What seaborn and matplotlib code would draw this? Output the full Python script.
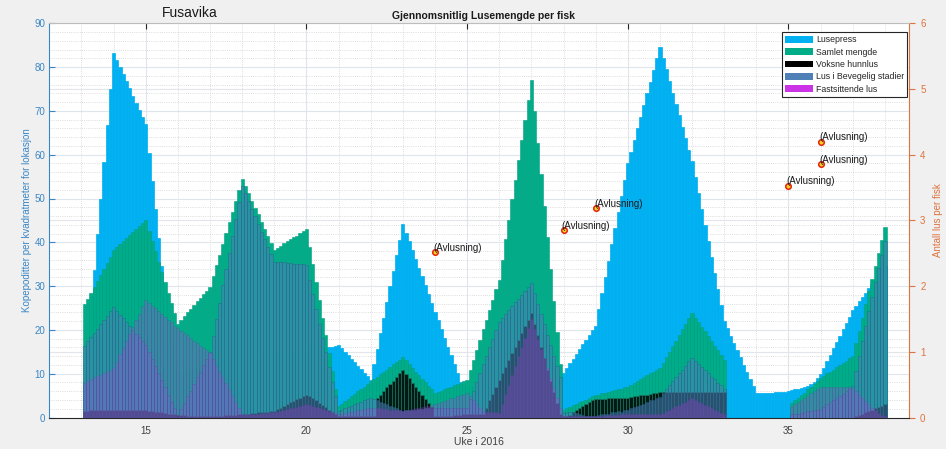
import numpy as np
import matplotlib
matplotlib.use("Agg")
import matplotlib.pyplot as plt
from matplotlib.patches import Patch
from matplotlib.ticker import MultipleLocator
import seaborn as sns

# Ten bars per week, centred on 13.1 ... 38.0
uke = np.round(np.arange(13.1, 38.05, 0.1), 1)

# Kopepoditter per m2 (left axis)
lusepress = [
    8.0, 17.0, 25.4, 33.7, 41.9, 50.0, 58.4, 66.7, 75.0, 83.3,
    81.7, 80.0, 78.4, 76.8, 75.2, 73.5, 71.9, 70.3, 68.6, 67.0,
    60.5, 54.0, 47.5, 41.0, 34.5, 28.0, 22.0, 16.0, 12.0, 10.0,
    10.2, 10.4, 10.6, 10.8, 11.0, 11.2, 11.4, 11.6, 11.8, 12.0,
    12.1, 12.2, 12.3, 12.4, 12.5, 12.6, 12.7, 12.8, 12.9, 13.0,
    13.1, 13.2, 13.3, 13.4, 13.5, 13.6, 13.7, 13.8, 13.9, 14.0,
    14.1, 14.2, 14.3, 14.4, 14.5, 14.6, 14.7, 14.8, 14.9, 15.0,
    15.1, 15.2, 15.3, 15.4, 15.5, 15.8, 16.0, 16.2, 16.4, 16.6,
    15.8, 15.0, 14.2, 13.4, 12.6, 11.8, 11.0, 10.2, 9.4, 8.6,
    12.2, 15.7, 19.3, 22.8, 26.4, 30.0, 33.5, 37.1, 40.6, 44.2,
    42.2, 40.2, 38.2, 36.2, 34.2, 32.2, 30.2, 28.2, 26.2, 24.2,
    22.2, 20.2, 18.2, 16.2, 14.2, 12.2, 10.2, 8.2, 7.5, 7.0,
    7.1, 7.2, 7.3, 7.4, 7.5, 7.6, 7.7, 7.8, 7.9, 8.0,
    8.1, 8.2, 8.3, 8.4, 8.5, 8.6, 8.7, 8.8, 8.9, 9.0,
    9.1, 9.2, 9.3, 9.4, 9.5, 9.6, 9.7, 9.8, 9.9, 10.2,
    11.3, 12.4, 13.4, 14.5, 15.6, 16.7, 17.8, 18.8, 19.9, 21.0,
    24.7, 28.4, 32.1, 35.8, 39.5, 43.2, 46.9, 50.6, 54.3, 58.0,
    60.7, 63.3, 66.0, 68.7, 71.4, 74.0, 76.7, 79.4, 82.0, 84.7,
    82.1, 79.5, 76.8, 74.2, 71.6, 69.0, 66.4, 63.7, 61.1, 58.5,
    54.9, 51.2, 47.6, 43.9, 40.3, 36.6, 33.0, 29.3, 25.7, 22.0,
    20.4, 18.7, 17.1, 15.4, 13.8, 12.1, 10.5, 8.8, 7.2, 5.5,
    5.5, 5.6, 5.6, 5.7, 5.7, 5.8, 5.8, 5.9, 5.9, 6.0,
    6.2, 6.4, 6.6, 6.8, 7.0, 7.2, 7.6, 8.2, 9.0, 10.0,
    11.4, 12.9, 14.3, 15.8, 17.2, 18.7, 20.1, 21.6, 23.0, 24.5,
    25.5, 26.5, 27.5, 28.5, 29.5, 30.5, 31.5, 32.5, 33.5, 34.5,
]

# Lus per fisk (right axis)
samlet_mengde = [
    1.72, 1.81, 1.90, 1.99, 2.08, 2.17, 2.26, 2.35, 2.45, 2.55,
    2.60, 2.64, 2.69, 2.73, 2.78, 2.82, 2.87, 2.91, 2.96, 3.00,
    2.84, 2.69, 2.53, 2.37, 2.22, 2.06, 1.90, 1.74, 1.59, 1.43,
    1.49, 1.54, 1.60, 1.65, 1.71, 1.77, 1.82, 1.88, 1.93, 1.99,
    2.15, 2.32, 2.48, 2.64, 2.81, 2.97, 3.13, 3.30, 3.46, 3.63,
    3.52, 3.41, 3.30, 3.19, 3.09, 2.98, 2.87, 2.76, 2.65, 2.55,
    2.58, 2.61, 2.65, 2.68, 2.71, 2.74, 2.77, 2.81, 2.84, 2.87,
    2.60, 2.33, 2.06, 1.79, 1.52, 1.25, 0.98, 0.71, 0.44, 0.17,
    0.21, 0.25, 0.28, 0.32, 0.36, 0.40, 0.43, 0.47, 0.51, 0.55,
    0.58, 0.62, 0.66, 0.70, 0.73, 0.77, 0.81, 0.85, 0.88, 0.92,
    0.87, 0.81, 0.76, 0.70, 0.65, 0.59, 0.54, 0.48, 0.43, 0.37,
    0.39, 0.41, 0.43, 0.45, 0.47, 0.49, 0.51, 0.53, 0.55, 0.57,
    0.72, 0.88, 1.03, 1.18, 1.34, 1.49, 1.64, 1.79, 1.95, 2.10,
    2.40, 2.71, 3.01, 3.32, 3.62, 3.92, 4.23, 4.53, 4.84, 5.14,
    4.66, 4.18, 3.70, 3.22, 2.74, 2.26, 1.78, 1.30, 0.82, 0.12,
    0.14, 0.16, 0.19, 0.21, 0.23, 0.25, 0.27, 0.30, 0.32, 0.34,
    0.35, 0.37, 0.38, 0.39, 0.41, 0.42, 0.43, 0.44, 0.46, 0.47,
    0.50, 0.53, 0.55, 0.58, 0.61, 0.64, 0.67, 0.69, 0.72, 0.75,
    0.83, 0.92, 1.00, 1.09, 1.17, 1.25, 1.34, 1.42, 1.51, 1.59,
    1.52, 1.45, 1.38, 1.31, 1.24, 1.16, 1.09, 1.02, 0.95, 0.88,
    0, 0, 0, 0, 0, 0, 0, 0, 0, 0,
    0, 0, 0, 0, 0, 0, 0, 0, 0, 0,
    0.22, 0.26, 0.30, 0.34, 0.38, 0.43, 0.47, 0.51, 0.55, 0.60,
    0.63, 0.67, 0.70, 0.73, 0.77, 0.80, 0.83, 0.86, 0.90, 0.93,
    1.13, 1.32, 1.52, 1.72, 1.92, 2.11, 2.31, 2.51, 2.70, 2.90,
]

voksne_hunnlus = [
    0.10, 0.10, 0.11, 0.11, 0.11, 0.11, 0.11, 0.12, 0.12, 0.12,
    0.12, 0.12, 0.12, 0.12, 0.12, 0.11, 0.11, 0.11, 0.11, 0.11,
    0.10, 0.10, 0.09, 0.08, 0.08, 0.07, 0.06, 0.06, 0.05, 0.04,
    0.04, 0.04, 0.03, 0.03, 0.03, 0.03, 0.03, 0.02, 0.02, 0.02,
    0.02, 0.03, 0.03, 0.03, 0.04, 0.04, 0.04, 0.04, 0.05, 0.05,
    0.06, 0.06, 0.07, 0.07, 0.08, 0.08, 0.09, 0.09, 0.10, 0.10,
    0.13, 0.15, 0.18, 0.20, 0.23, 0.25, 0.28, 0.30, 0.33, 0.35,
    0.32, 0.29, 0.26, 0.22, 0.19, 0.16, 0.12, 0.09, 0.05, 0.02,
    0.02, 0.02, 0.02, 0.02, 0.02, 0.02, 0.02, 0.02, 0.02, 0.02,
    0.02, 0.30, 0.35, 0.41, 0.46, 0.51, 0.56, 0.62, 0.67, 0.72,
    0.66, 0.60, 0.53, 0.47, 0.41, 0.35, 0.28, 0.22, 0.16, 0.02,
    0.02, 0.02, 0.03, 0.03, 0.03, 0.04, 0.04, 0.04, 0.05, 0.05,
    0.05, 0.05, 0.05, 0.05, 0.05, 0.15, 0.26, 0.36, 0.46, 0.57,
    0.67, 0.77, 0.87, 0.98, 1.08, 1.18, 1.28, 1.39, 1.49, 1.59,
    1.42, 1.25, 1.08, 0.90, 0.73, 0.56, 0.39, 0.22, 0.05, 0.02,
    0.02, 0.04, 0.08, 0.11, 0.15, 0.18, 0.21, 0.24, 0.27, 0.28,
    0.28, 0.28, 0.28, 0.29, 0.29, 0.29, 0.29, 0.30, 0.30, 0.30,
    0.31, 0.32, 0.33, 0.34, 0.35, 0.35, 0.36, 0.37, 0.38, 0.39,
    0.39, 0.39, 0.39, 0.39, 0.39, 0.39, 0.39, 0.39, 0.39, 0.39,
    0.39, 0.39, 0.39, 0.39, 0.39, 0.39, 0.39, 0.39, 0.39, 0.39,
    0, 0, 0, 0, 0, 0, 0, 0, 0, 0,
    0, 0, 0, 0, 0, 0, 0, 0, 0, 0,
    0, 0, 0, 0, 0, 0, 0, 0, 0, 0,
    0, 0, 0, 0, 0, 0, 0, 0, 0, 0,
    0.02, 0.04, 0.06, 0.08, 0.10, 0.12, 0.14, 0.16, 0.18, 0.20,
]

bevegelige_lus = [
    1.09, 1.16, 1.22, 1.29, 1.35, 1.42, 1.49, 1.55, 1.62, 1.68,
    1.62, 1.56, 1.51, 1.45, 1.39, 1.33, 1.27, 1.22, 1.16, 1.10,
    0.99, 0.89, 0.78, 0.67, 0.57, 0.46, 0.35, 0.24, 0.14, 0.03,
    0.13, 0.22, 0.32, 0.41, 0.51, 0.61, 0.70, 0.80, 0.89, 0.99,
    1.24, 1.50, 1.75, 2.01, 2.26, 2.51, 2.77, 3.02, 3.28, 3.53,
    3.41, 3.30, 3.18, 3.07, 2.95, 2.83, 2.72, 2.60, 2.49, 2.37,
    2.37, 2.36, 2.36, 2.35, 2.35, 2.34, 2.34, 2.33, 2.33, 2.32,
    2.10, 1.88, 1.65, 1.43, 1.21, 0.99, 0.77, 0.54, 0.32, 0.10,
    0.12, 0.14, 0.16, 0.18, 0.20, 0.22, 0.24, 0.26, 0.28, 0.30,
    0.28, 0.26, 0.24, 0.22, 0.20, 0.18, 0.16, 0.14, 0.12, 0.10,
    0.11, 0.11, 0.12, 0.12, 0.13, 0.13, 0.14, 0.14, 0.15, 0.15,
    0.15, 0.15, 0.15, 0.15, 0.15, 0.15, 0.15, 0.15, 0.15, 0.15,
    0.28, 0.41, 0.54, 0.67, 0.81, 0.94, 1.07, 1.20, 1.33, 1.46,
    1.52, 1.58, 1.64, 1.70, 1.76, 1.81, 1.87, 1.93, 1.99, 2.05,
    1.89, 1.73, 1.57, 1.42, 1.26, 1.10, 0.94, 0.78, 0.62, 0.07,
    0.09, 0.09, 0.08, 0.07, 0.05, 0.04, 0.03, 0.03, 0.02, 0.03,
    0.04, 0.06, 0.06, 0.06, 0.08, 0.09, 0.10, 0.09, 0.11, 0.12,
    0.14, 0.16, 0.17, 0.19, 0.21, 0.24, 0.26, 0.27, 0.29, 0.31,
    0.37, 0.43, 0.49, 0.56, 0.61, 0.67, 0.73, 0.79, 0.86, 0.91,
    0.86, 0.82, 0.77, 0.73, 0.68, 0.62, 0.58, 0.53, 0.49, 0.44,
    0, 0, 0, 0, 0, 0, 0, 0, 0, 0,
    0, 0, 0, 0, 0, 0, 0, 0, 0, 0,
    0.05, 0.06, 0.06, 0.07, 0.08, 0.10, 0.10, 0.11, 0.11, 0.13,
    0.16, 0.20, 0.23, 0.26, 0.30, 0.33, 0.36, 0.40, 0.44, 0.48,
    0.71, 0.93, 1.16, 1.39, 1.62, 1.84, 2.06, 2.28, 2.48, 2.68,
]

fastsittende_lus = [
    0.53, 0.56, 0.58, 0.61, 0.63, 0.65, 0.68, 0.70, 0.73, 0.75,
    0.85, 0.96, 1.06, 1.17, 1.27, 1.37, 1.48, 1.58, 1.69, 1.79,
    1.75, 1.70, 1.66, 1.62, 1.58, 1.53, 1.49, 1.45, 1.40, 1.36,
    1.32, 1.28, 1.25, 1.21, 1.17, 1.13, 1.09, 1.06, 1.02, 0.98,
    0.89, 0.79, 0.70, 0.61, 0.52, 0.42, 0.33, 0.24, 0.14, 0.05,
    0.05, 0.06, 0.06, 0.06, 0.06, 0.07, 0.07, 0.07, 0.08, 0.08,
    0.09, 0.10, 0.12, 0.13, 0.14, 0.15, 0.16, 0.18, 0.19, 0.20,
    0.19, 0.17, 0.16, 0.14, 0.13, 0.11, 0.10, 0.08, 0.07, 0.05,
    0.06, 0.07, 0.08, 0.09, 0.10, 0.11, 0.12, 0.13, 0.14, 0.15,
    0.15, 0.14, 0.14, 0.13, 0.13, 0.12, 0.12, 0.11, 0.11, 0.10,
    0.11, 0.12, 0.13, 0.14, 0.15, 0.16, 0.17, 0.18, 0.19, 0.20,
    0.22, 0.23, 0.25, 0.27, 0.29, 0.30, 0.32, 0.34, 0.35, 0.37,
    0.32, 0.26, 0.21, 0.15, 0.10, 0.09, 0.09, 0.08, 0.08, 0.07,
    0.21, 0.36, 0.50, 0.64, 0.79, 0.93, 1.07, 1.21, 1.36, 1.50,
    1.35, 1.20, 1.05, 0.90, 0.75, 0.60, 0.45, 0.30, 0.15, 0.03,
    0.03, 0.03, 0.03, 0.03, 0.03, 0.03, 0.03, 0.03, 0.03, 0.03,
    0.03, 0.03, 0.04, 0.04, 0.04, 0.04, 0.04, 0.05, 0.05, 0.05,
    0.05, 0.05, 0.05, 0.05, 0.05, 0.05, 0.05, 0.05, 0.05, 0.05,
    0.07, 0.10, 0.12, 0.14, 0.17, 0.19, 0.22, 0.24, 0.26, 0.29,
    0.27, 0.24, 0.22, 0.19, 0.17, 0.15, 0.12, 0.10, 0.07, 0.05,
    0, 0, 0, 0, 0, 0, 0, 0, 0, 0,
    0, 0, 0, 0, 0, 0, 0, 0, 0, 0,
    0.17, 0.20, 0.24, 0.27, 0.30, 0.33, 0.37, 0.40, 0.44, 0.47,
    0.47, 0.47, 0.47, 0.47, 0.47, 0.47, 0.47, 0.46, 0.46, 0.45,
    0.40, 0.35, 0.30, 0.25, 0.20, 0.15, 0.11, 0.07, 0.04, 0.02,
]

# Avlusning (delousing) events, right axis
avlusning_uke = [24, 28, 29, 35, 36, 36]
avlusning_verdi = [2.52, 2.85, 3.19, 3.53, 3.86, 4.20]

serie_navn = ["Lusepress", "Samlet mengde", "Voksne hunnlus",
              "Lus i Bevegelig stadier", "Fastsittende lus"]
farger = ["#00B0F0", "#00AD88", "#000000", "#5080B8", "#CC33E6"]

BLUE_AX = "#3a87c6"
ORANGE_AX = "#de7340"

sns.set_style("white")
plt.rcParams["font.family"] = ["Liberation Sans", "DejaVu Sans"]

fig = plt.figure(figsize=(9.46, 4.49), dpi=100, facecolor="#f0f0f0")
ax = fig.add_axes([49.3 / 946, 31.5 / 449, 859.7 / 946, 394.2 / 449])
ax.set_facecolor("white")
ax2 = ax.twinx()
ax2.patch.set_visible(False)


def draw_bars(target, values, color, alpha=1.0, edge="none", lw=0.0, z=2):
    v = np.asarray(values, dtype=float)
    keep = v > 0
    sns.barplot(x=uke[keep], y=v[keep], native_scale=True, orient="x",
                width=1.0, color=color, saturation=1, errorbar=None,
                alpha=alpha, edgecolor=edge, linewidth=lw, zorder=z,
                ax=target)


draw_bars(ax, lusepress, farger[0], edge=farger[0], lw=0.5, z=2)
draw_bars(ax2, samlet_mengde, farger[1], edge="#00a07f", lw=0.4, z=2)
draw_bars(ax2, voksne_hunnlus, farger[2], alpha=0.85, edge="#1f7a66", lw=0.5, z=3)
draw_bars(ax2, bevegelige_lus, "#4A7FB8", alpha=0.55, edge="#2b5b87", lw=0.5, z=4)
draw_bars(ax2, fastsittende_lus, "#B040E0", alpha=0.3, edge="#5a3a9a", lw=0.4, z=5)

# Delousing markers with labels
sns.scatterplot(x=avlusning_uke, y=avlusning_verdi, ax=ax2, s=16,
                color="#f7d11a", edgecolor="#e3240f", linewidth=1.1,
                zorder=8, legend=False)
for xu, yv in zip(avlusning_uke, avlusning_verdi):
    ax2.annotate("(Avlusning)", (xu, yv), xytext=(-1.2, -0.5),
                 textcoords="offset points", ha="left", va="bottom",
                 fontsize=7, color="#1a1a1a", zorder=9)

# Limits and ticks
ax.set_xlim(12, 38.75)
ax.set_ylim(0, 90)
ax2.set_ylim(0, 6)
ax.xaxis.set_major_locator(MultipleLocator(5))
ax.xaxis.set_minor_locator(MultipleLocator(1))
ax.yaxis.set_major_locator(MultipleLocator(10))
ax.yaxis.set_minor_locator(MultipleLocator(2))
ax2.yaxis.set_major_locator(MultipleLocator(1))

# Grid (left axis carries all grid lines so they stay behind the bars)
ax.set_axisbelow(True)
ax.grid(which="major", color="#dfe5ec", linewidth=0.8)
ax.grid(which="minor", color="#d2d2d2", linewidth=0.6, linestyle=(0, (1, 1.6)))
for v in (15, 45, 75):
    ax.axhline(v, color="#e2e6ea", linewidth=0.8, zorder=0.6)
ax2.grid(False)

ax.tick_params(axis="y", which="major", direction="in", length=4,
               colors=BLUE_AX, labelsize=7, pad=3)
ax.tick_params(axis="both", which="minor", length=0)
ax.tick_params(axis="x", which="major", direction="in", length=4,
               color="#262626", labelcolor="#404040", labelsize=7, pad=6,
               top=True)
ax2.tick_params(axis="y", which="major", direction="out", length=4,
                colors=ORANGE_AX, labelsize=7, pad=4)
ax2.tick_params(axis="y", which="minor", length=0)

for sp in ax.spines.values():
    sp.set_visible(False)
ax2.spines["left"].set_color(BLUE_AX)
ax2.spines["right"].set_color(ORANGE_AX)
ax2.spines["top"].set_color("#bdbdbd")
ax2.spines["bottom"].set_color("#262626")
for sp in ax2.spines.values():
    sp.set_linewidth(0.8)

# Axis labels
ax.set_xlabel("Uke i 2016", fontsize=7.5, color="#404040")
ax.xaxis.set_label_coords(0.5, -0.0614)
ax.xaxis.label.set_va("center")
ax.set_ylabel("Kopepoditter per kvadratmeter for lokasjon", fontsize=7,
              color=BLUE_AX)
ax.yaxis.set_label_coords(-0.0263, 0.5)
ax.yaxis.label.set_va("center")
ax2.set_ylabel("Antall lus per fisk", fontsize=7, color=ORANGE_AX,
               rotation=90)
ax2.yaxis.set_label_coords(1.0337, 0.5)
ax2.yaxis.label.set_va("center")

# Legend
handles = [Patch(facecolor=c, edgecolor="none", label=n)
           for c, n in zip(farger, serie_navn)]
leg = ax2.legend(handles=handles, loc="upper right",
                 bbox_to_anchor=(0.998, 0.977), fontsize=6.3, frameon=True,
                 fancybox=False, framealpha=1, edgecolor="#262626",
                 borderpad=0.35, labelspacing=0.38, handlelength=3.2,
                 handleheight=0.8, handletextpad=0.35, borderaxespad=0)
leg.get_frame().set_linewidth(0.8)
leg.set_zorder(20)

# Titles
fig.text(483 / 946, 1 - 15.7 / 449, "Gjennomsnitlig Lusemengde per fisk",
         ha="center", va="center", fontsize=7.5, fontweight="bold",
         color="#1a1a1a")
fig.text(189.5 / 946, 1 - 13.3 / 449, "Fusavika", ha="center", va="center",
         fontsize=10, color="#1a1a1a")

fig.savefig("out.png", dpi=100, facecolor=fig.get_facecolor())
